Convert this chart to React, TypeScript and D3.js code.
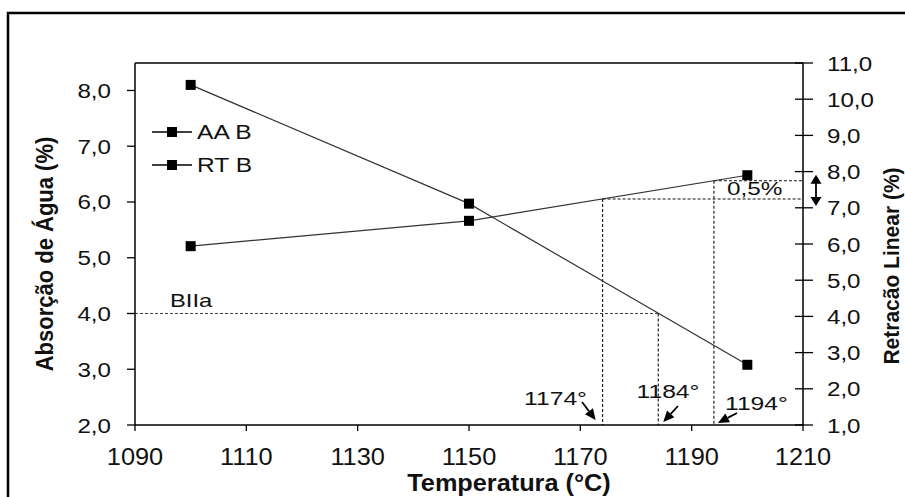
import React from 'react';
import * as d3 from 'd3';

// dados
const temps = [1100, 1150, 1200];
const aaB = [8.1, 5.97, 3.08];   // absorção de água (eixo esquerdo)
const rtB = [5.94, 6.64, 7.9];   // retração linear (eixo direito)

const xTicks = [1090, 1110, 1130, 1150, 1170, 1190, 1210];
const leftTicks = [2, 3, 4, 5, 6, 7, 8];
const rightTicks = [1, 2, 3, 4, 5, 6, 7, 8, 9, 10, 11];

const markTemps = [1174, 1184, 1194];
const bIIaLevel = 4.0;
const deltaLabel = '0,5%';

const W = 905, H = 497;
const FONT = 'Arial, "Liberation Sans", sans-serif';

const fmt = (v: number) => v.toFixed(1).replace('.', ',');

function T({ x, y, size, sx = 1.15, anchor = 'start', weight = 'normal', rotate = 0, children }: any) {
  const tr = rotate
    ? `translate(${x},${y}) rotate(${rotate}) scale(1,${sx})`
    : `translate(${x},${y}) scale(${sx},1)`;
  return (
    <text transform={tr} fontSize={size} fontFamily={FONT} fontWeight={weight}
      textAnchor={anchor} fill="#111">{children}</text>
  );
}

// seta com ponta cheia, desenhada à mão
function Arrow({ x1, y1, x2, y2, head = 10, w = 8 }: any) {
  const a = Math.atan2(y2 - y1, x2 - x1);
  const bx = x2 - head * Math.cos(a), by = y2 - head * Math.sin(a);
  const px = (w / 2) * Math.sin(a), py = (w / 2) * Math.cos(a);
  return (
    <g>
      <line x1={x1} y1={y1} x2={bx} y2={by} stroke="#000" strokeWidth={1.8} />
      <polygon points={`${x2},${y2} ${bx + px},${by - py} ${bx - px},${by + py}`} fill="#000" />
    </g>
  );
}

export default function App() {
  const x = d3.scaleLinear().domain([1090, 1210]).range([135, 803]);
  const yL = d3.scaleLinear().domain([2, 8.5]).range([425, 62.6]);
  const yR = d3.scaleLinear().domain([1, 11]).range([425, 63]);

  const rtAt = d3.scaleLinear().domain(temps).range(rtB);

  const lineL = d3.line<number>().x((d, i) => x(temps[i])).y(d => yL(d));
  const lineR = d3.line<number>().x((d, i) => x(temps[i])).y(d => yR(d));

  const [t1, t2, t3] = markTemps;
  const y0 = yL(2);
  const dash = { stroke: '#111', strokeWidth: 1.1, strokeDasharray: '3,2', fill: 'none' };
  const yHi = yR(rtAt(t3)), yLo = yR(rtAt(t1));
  const ax = 816;

  return (
    <svg width={W} height={H} style={{ position: 'absolute', left: 0, top: 0, background: '#fff' }}>
      {/* moldura externa */}
      <rect x={8} y={13} width={1000} height={600} fill="none" stroke="#000" strokeWidth={2.5} />

      {/* linhas tracejadas de referência */}
      <line x1={x(1090)} x2={x(t2)} y1={yL(bIIaLevel)} y2={yL(bIIaLevel)} {...dash} stroke="#444" />
      <line x1={x(t2)} x2={x(t2)} y1={yL(bIIaLevel)} y2={y0} {...dash} />
      <line x1={x(t1)} x2={x(t1)} y1={yLo} y2={y0} {...dash} />
      <line x1={x(t1)} x2={x(1210)} y1={yLo} y2={yLo} {...dash} />
      <line x1={x(t3)} x2={x(t3)} y1={yHi} y2={y0} {...dash} />
      <line x1={x(t3)} x2={x(1210)} y1={yHi} y2={yHi} {...dash} />

      {/* séries */}
      <path d={lineL(aaB) || ''} fill="none" stroke="#333" strokeWidth={1.2} />
      <path d={lineR(rtB) || ''} fill="none" stroke="#333" strokeWidth={1.2} />
      {aaB.map((v, i) => (
        <rect key={'a' + i} x={x(temps[i]) - 5} y={yL(v) - 5} width={10} height={10} fill="#000" />
      ))}
      {rtB.map((v, i) => (
        <rect key={'r' + i} x={x(temps[i]) - 5} y={yR(v) - 5} width={10} height={10} fill="#000" />
      ))}

      {/* caixa do gráfico */}
      <line x1={x(1090)} x2={x(1210)} y1={yR(11)} y2={yR(11)} stroke="#000" strokeWidth={1.5} />
      <line x1={x(1090)} x2={x(1090)} y1={yR(11)} y2={y0} stroke="#000" strokeWidth={1.5} />
      <line x1={x(1210)} x2={x(1210)} y1={yR(11)} y2={y0} stroke="#000" strokeWidth={1.5} />
      <line x1={x(1090)} x2={x(1210)} y1={y0} y2={y0} stroke="#000" strokeWidth={1.5} />

      {/* eixo x */}
      {xTicks.map(t => (
        <g key={'x' + t}>
          <line x1={x(t)} x2={x(t)} y1={y0} y2={y0 + 6} stroke="#000" strokeWidth={1.3} />
          <T x={x(t)} y={465} size={23.5} sx={1.08} anchor="middle">{t}</T>
        </g>
      ))}
      {/* eixo esquerdo */}
      {leftTicks.map(t => (
        <g key={'l' + t}>
          <line x1={x(1090) - 8} x2={x(1090)} y1={yL(t)} y2={yL(t)} stroke="#000" strokeWidth={1.3} />
          <T x={111} y={yL(t) + 7.5} size={21} anchor="end">{fmt(t)}</T>
        </g>
      ))}
      {/* eixo direito */}
      {rightTicks.map(t => (
        <g key={'r' + t}>
          <line x1={x(1210) - 8} x2={x(1210) + 10} y1={yR(t)} y2={yR(t)} stroke="#000" strokeWidth={1.3} />
          <T x={827} y={yR(t) + 7.5} size={21} anchor="start">{fmt(t)}</T>
        </g>
      ))}

      {/* títulos */}
      <T x={509} y={491} size={23} sx={1.1} anchor="middle" weight="bold">Temperatura (°C)</T>
      <T x={53} y={254} size={22} sx={1.06} rotate={-90} anchor="middle" weight="bold">Absorção de Água (%)</T>
      <T x={899} y={266} size={21} sx={1.06} rotate={-90} anchor="middle" weight="bold">Retracão Linear (%)</T>

      {/* legenda */}
      <line x1={152} x2={192} y1={132} y2={132} stroke="#000" strokeWidth={1.3} />
      <rect x={167} y={127} width={10} height={10} fill="#000" />
      <T x={197} y={139} size={20} sx={1.23}>AA B</T>
      <line x1={152} x2={192} y1={165} y2={165} stroke="#000" strokeWidth={1.3} />
      <rect x={167} y={160} width={10} height={10} fill="#000" />
      <T x={197} y={172} size={20} sx={1.23}>RT B</T>

      {/* anotações */}
      <T x={170} y={307} size={19} sx={1.25}>BIIa</T>
      <T x={727} y={195} size={19} sx={1.28}>{deltaLabel}</T>
      <line x1={ax} x2={ax} y1={yHi} y2={yLo} stroke="#000" strokeWidth={1.8} />
      <polygon points={`${ax},${yHi - 6} ${ax - 5.5},${yHi + 3} ${ax + 5.5},${yHi + 3}`} fill="#000" />
      <polygon points={`${ax},${yLo + 7} ${ax - 5.5},${yLo - 2} ${ax + 5.5},${yLo - 2}`} fill="#000" />

      <T x={587} y={405} size={19} sx={1.3} anchor="end">{t1 + '°'}</T>
      <Arrow x1={582} y1={402} x2={x(t1) - 7} y2={y0 - 5} head={11} w={10} />
      <T x={668} y={398} size={19} sx={1.3} anchor="middle">{t2 + '°'}</T>
      <Arrow x1={678} y1={406} x2={x(t2) + 5} y2={y0 - 3} head={11} w={10} />
      <T x={725} y={410} size={19} sx={1.3}>{t3 + '°'}</T>
      <Arrow x1={737} y1={413} x2={x(t3) + 4} y2={y0 - 2} head={11} w={10} />
    </svg>
  );
}
